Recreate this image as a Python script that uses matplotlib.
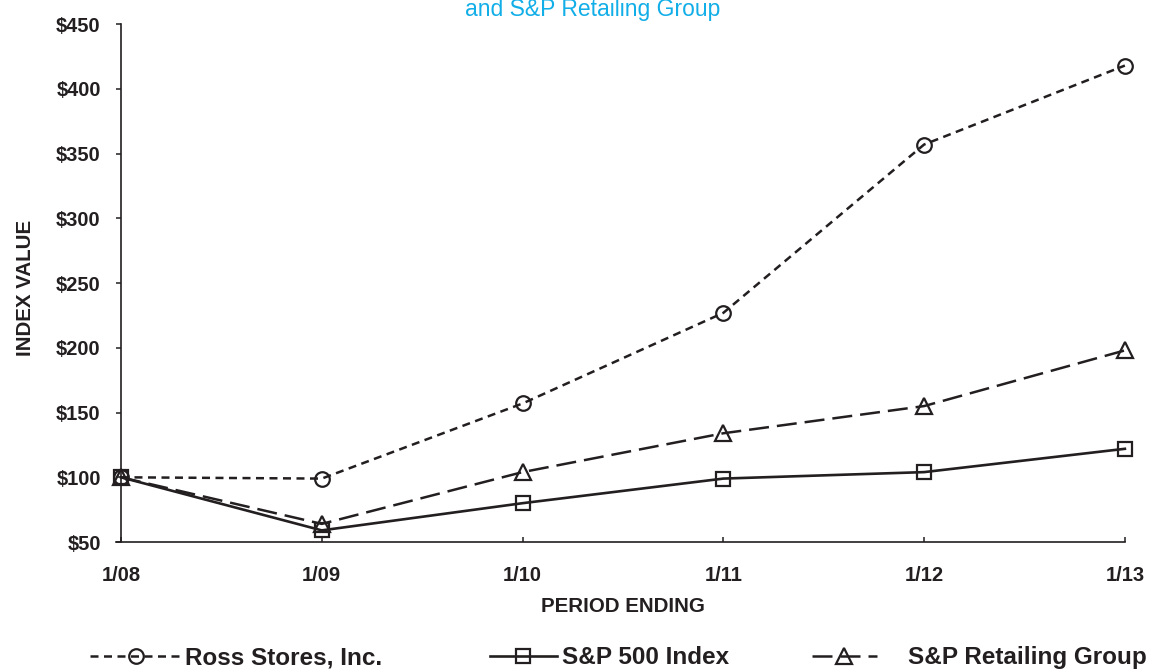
import matplotlib.pyplot as plt

plt.rcParams['font.family'] = ['Liberation Sans', 'DejaVu Sans']

periods = ['1/08', '1/09', '1/10', '1/11', '1/12', '1/13']
ross = [100, 99, 157, 227, 357, 418]
sp500 = [100, 59, 80, 99, 104, 122]
retail = [100, 64, 104, 134, 155, 198]
yticks = [50, 100, 150, 200, 250, 300, 350, 400, 450]

fig = plt.figure(figsize=(11.49, 6.70), dpi=100)
ax = fig.add_axes([0.1053, 0.191, 0.8737, 0.773])

x = list(range(len(periods)))
ink = '#231f20'
l1, = ax.plot(x, ross, color=ink, lw=1.8, dashes=(3.2, 2.2), marker='o', ms=10.5,
              mfc='none', mec=ink, mew=1.6, label='Ross Stores, Inc.')
l2, = ax.plot(x, sp500, color=ink, lw=1.9, marker='s', ms=10.5,
              mfc='none', mec=ink, mew=1.6, label='S&P 500 Index')
l3, = ax.plot(x, retail, color=ink, lw=1.8, dashes=(8, 3.2), marker='^', ms=11.5,
              mfc='none', mec=ink, mew=1.6, label='S&P Retailing Group')

ax.set_xlim(0, 5)
ax.set_ylim(50, 450)
ax.set_xticks(x)
ax.set_xticklabels(periods)
ax.set_yticks(yticks)
ax.set_yticklabels(['$%d' % v for v in yticks])
ax.tick_params(axis='y', length=3.6, width=1.1, color=ink, labelsize=14.5, pad=11)
ax.tick_params(axis='x', direction='in', length=3.6, width=1.1, color=ink,
               labelsize=14.5, pad=17)
for lab in ax.get_xticklabels() + ax.get_yticklabels():
    lab.set_fontweight('bold')
    lab.set_color(ink)
ax.spines['top'].set_visible(False)
ax.spines['right'].set_visible(False)
for s in ['left', 'bottom']:
    ax.spines[s].set_color(ink)
    ax.spines[s].set_linewidth(1.2)
ax.spines['bottom'].set_bounds(-0.025, 5.0)
for c in ax.get_children():
    if hasattr(c, 'set_clip_on'):
        c.set_clip_on(False)

ax.set_xlabel('PERIOD ENDING', fontsize=14.8, fontweight='bold', color=ink)
ax.xaxis.set_label_coords(0.5, -0.106)
ax.set_ylabel('INDEX VALUE', fontsize=14.8, fontweight='bold', color=ink)
ax.yaxis.set_label_coords(-0.0856, 0.49)

fig.text(0.516, 1 - 16 / 670, 'and S&P Retailing Group', color='#12aee8',
         fontsize=16.5, ha='center', va='baseline')

# three legend entries placed separately to mimic the spacing
entries = [(l1, 90, 3.8, 0.1), (l2, 490, 2.75, 0.2), (l3, 812, 2.67, 1.27)]
for h, xpx, hl, tp in entries:
    leg = fig.legend(handles=[h], loc='center left',
                     bbox_to_anchor=(xpx / 1149, 0.018), frameon=False,
                     handlelength=hl, handletextpad=tp, borderpad=0,
                     borderaxespad=0, prop={'weight': 'bold', 'size': 17.5})
    for t in leg.get_texts():
        t.set_color(ink)

fig.savefig('out.png', dpi=100)
